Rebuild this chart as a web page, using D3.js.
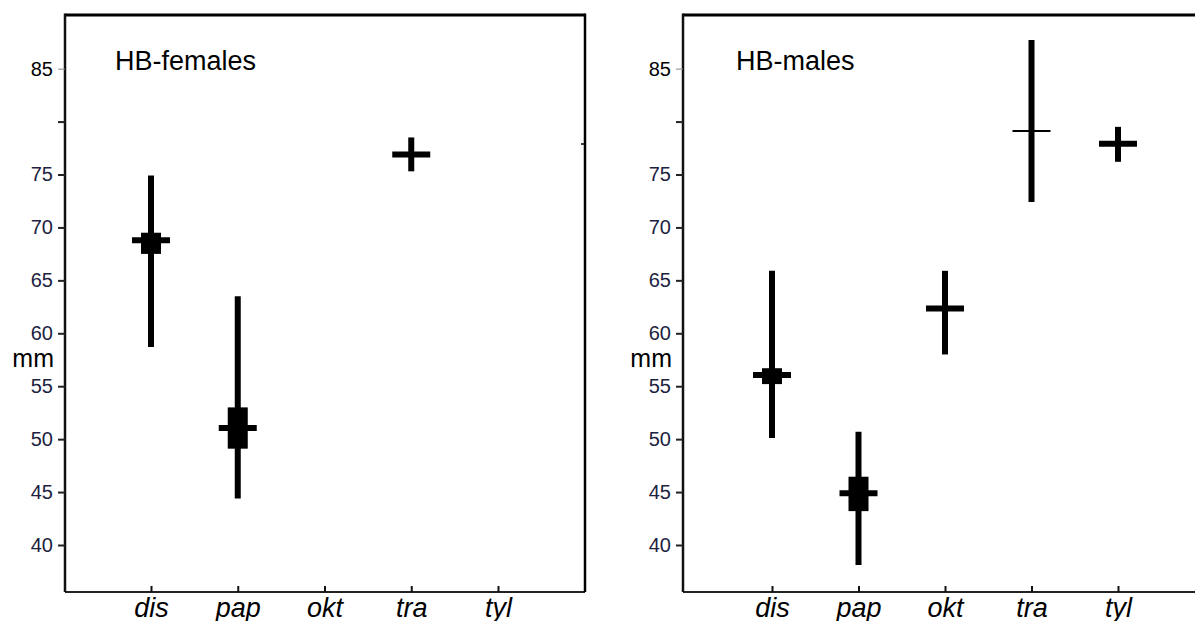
<!DOCTYPE html>
<html>
<head>
<meta charset="utf-8">
<script src="https://cdn.jsdelivr.net/npm/d3@7"></script>
<style>
  body { margin: 0; background: #fff; }
  text { font-family: Arial, "Liberation Sans", sans-serif; }
</style>
</head>
<body>
<div class="chart"></div>
<script>
var svgWidth = 1195;
var svgHeight = 621;

var categories = ["dis", "pap", "okt", "tra", "tyl"];
var yTicks = [40, 45, 50, 55, 60, 65, 70, 75, 80, 85];

// HB-females (null = no data)
var femalesMean   = [68.8, 51.05, null, 76.9, null];
var femalesMin    = [58.7, 44.4, null, 75.3, null];
var femalesMax    = [74.9, 63.5, null, 78.5, null];
var femalesSeLow  = [67.5, 49.1, null, null, null];
var femalesSeHigh = [69.5, 53.0, null, null, null];

// HB-males
var malesMean   = [56.05, 44.9, 62.35, 79.1, 77.9];
var malesMin    = [50.1, 38.1, 58.0, 72.4, 76.2];
var malesMax    = [65.9, 50.7, 65.9, 87.7, 79.5];
var malesSeLow  = [55.2, 43.2, null, null, null];
var malesSeHigh = [56.7, 46.45, null, null, null];

var panels = [
  { title: "HB-females", left: 65, right: 585, xRange: [151, 498], titleX: 115, border: true,
    mean: femalesMean, min: femalesMin, max: femalesMax, seLow: femalesSeLow, seHigh: femalesSeHigh, thin: [] },
  { title: "HB-males", left: 683, right: 1195, xRange: [772, 1118], titleX: 736, border: false,
    mean: malesMean, min: malesMin, max: malesMax, seLow: malesSeLow, seHigh: malesSeHigh, thin: ["tra"] }
];

var plotTop = 15, plotBottom = 592;

var svg = d3.select(".chart")
  .append("svg")
  .attr("width", svgWidth)
  .attr("height", svgHeight);

var y = d3.scaleLinear()
  .domain([40, 75])
  .range([545, 174.5]);

panels.forEach(function(p) {
  var g = svg.append("g");

  var x = d3.scalePoint()
    .domain(categories)
    .range(p.xRange);

  // frame
  g.append("line").attr("x1", p.left).attr("x2", p.right).attr("y1", plotTop).attr("y2", plotTop)
    .attr("stroke", "#000").attr("stroke-width", 3);
  g.append("line").attr("x1", p.left).attr("x2", p.right).attr("y1", plotBottom).attr("y2", plotBottom)
    .attr("stroke", "#222").attr("stroke-width", 2);
  g.append("line").attr("x1", p.left).attr("x2", p.left).attr("y1", plotTop - 1.5).attr("y2", plotBottom)
    .attr("stroke", "#111").attr("stroke-width", 2.5);
  if (p.border) {
    g.append("line").attr("x1", p.right).attr("x2", p.right).attr("y1", plotTop - 1.5).attr("y2", plotBottom)
      .attr("stroke", "#000").attr("stroke-width", 2.5);
    g.append("line").attr("x1", p.right - 4).attr("x2", p.right).attr("y1", 144).attr("y2", 144)
      .attr("stroke", "#000").attr("stroke-width", 1.5);
  }

  // y axis
  var leftAxis = d3.axisLeft(y)
    .tickValues(yTicks)
    .tickSize(7)
    .tickPadding(5)
    .tickFormat(function(d) { return d === 80 ? "" : d; });

  var yg = g.append("g")
    .attr("transform", `translate(${p.left}, 0)`)
    .call(leftAxis);
  yg.select(".domain").remove();
  yg.selectAll(".tick line")
    .attr("stroke", function(d) { return d === 85 ? "#888" : "#222"; })
    .attr("stroke-width", function(d) { return d === 85 ? 1 : 2; });
  yg.selectAll(".tick text")
    .style("font-size", "20px")
    .style("font-family", "Arial, 'Liberation Sans', sans-serif")
    .attr("fill", function(d) { return d === 85 ? "#000" : "#1c2240"; });

  // x axis
  var bottomAxis = d3.axisBottom(x).tickSize(-6);
  var xg = g.append("g")
    .attr("transform", `translate(0, ${plotBottom})`)
    .call(bottomAxis);
  xg.select(".domain").remove();
  xg.selectAll(".tick line").attr("stroke", "#111").attr("stroke-width", 2);
  xg.selectAll(".tick text")
    .attr("y", 25)
    .attr("dy", 0)
    .style("font-size", "27px")
    .style("font-style", "italic")
    .style("font-family", "Arial, 'Liberation Sans', sans-serif")
    .attr("fill", "#000");

  // labels
  g.append("text")
    .attr("x", p.titleX)
    .attr("y", 70)
    .style("font-size", "27px")
    .attr("fill", "#000")
    .text(p.title);

  g.append("text")
    .attr("x", p.left - 11)
    .attr("y", 367)
    .attr("text-anchor", "end")
    .style("font-size", "25px")
    .attr("fill", "#000")
    .text("mm");

  // marks
  var rows = categories.map(function(c, i) {
    return { cat: c, mean: p.mean[i], min: p.min[i], max: p.max[i], seLow: p.seLow[i], seHigh: p.seHigh[i] };
  }).filter(function(d) { return d.mean !== null; });

  g.selectAll(".range")
    .data(rows)
    .enter()
    .append("line")
    .attr("x1", d => x(d.cat))
    .attr("x2", d => x(d.cat))
    .attr("y1", d => y(d.max))
    .attr("y2", d => y(d.min))
    .attr("stroke", "#000")
    .attr("stroke-width", 6);

  g.selectAll(".se")
    .data(rows.filter(d => d.seLow !== null))
    .enter()
    .append("rect")
    .attr("x", d => x(d.cat) - 10)
    .attr("y", d => y(d.seHigh))
    .attr("width", 20)
    .attr("height", d => y(d.seLow) - y(d.seHigh))
    .attr("fill", "#000");

  g.selectAll(".mean")
    .data(rows)
    .enter()
    .append("line")
    .attr("x1", d => x(d.cat) - 19)
    .attr("x2", d => x(d.cat) + 19)
    .attr("y1", d => y(d.mean))
    .attr("y2", d => y(d.mean))
    .attr("stroke", "#000")
    .attr("stroke-width", d => p.thin.indexOf(d.cat) >= 0 ? 2 : 6);
});
</script>
</body>
</html>
